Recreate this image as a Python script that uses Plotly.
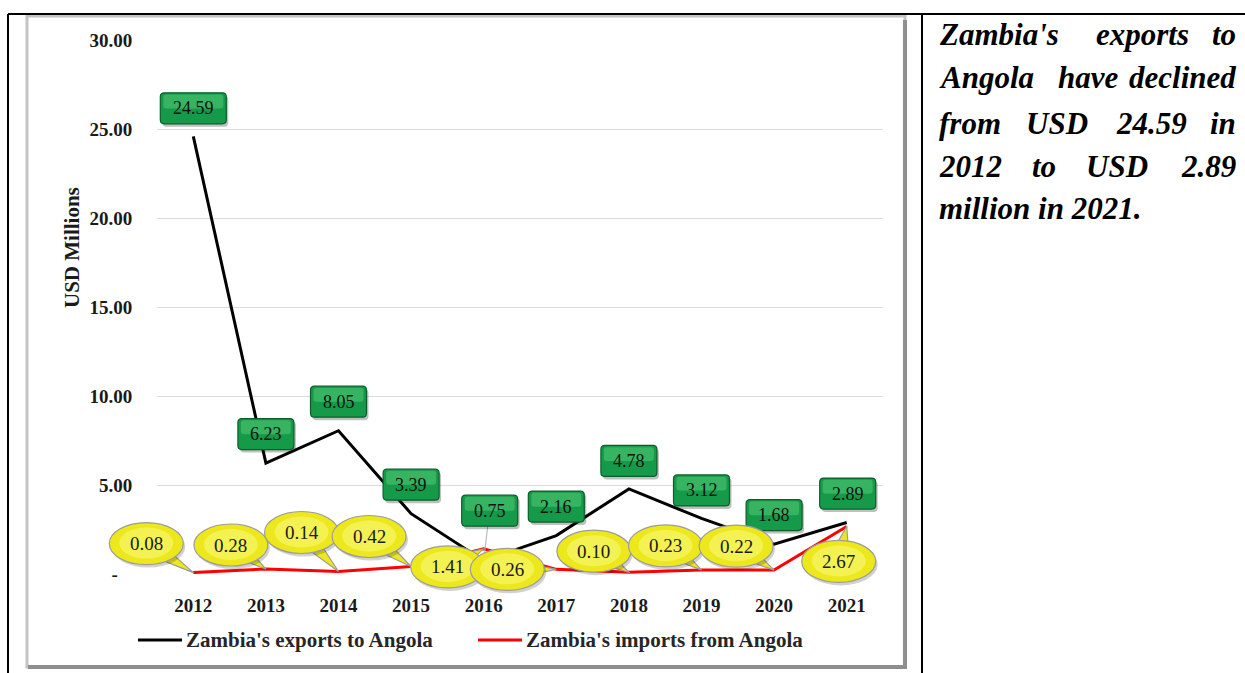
import math
import plotly.graph_objects as go

# ---------------- data ----------------
years = [2012, 2013, 2014, 2015, 2016, 2017, 2018, 2019, 2020, 2021]
exports = [24.59, 6.23, 8.05, 3.39, 0.75, 2.16, 4.78, 3.12, 1.68, 2.89]
imports = [0.08, 0.28, 0.14, 0.42, 1.41, 0.26, 0.10, 0.23, 0.22, 2.67]
export_name = "Zambia's exports to Angola"
import_name = "Zambia's imports from Angola"
y_tick_vals = [0, 5, 10, 15, 20, 25, 30]
y_tick_text = ["-\u00a0\u00a0\u00a0", "5.00", "10.00", "15.00", "20.00", "25.00", "30.00"]
y_title = "USD Millions"
note_words = [
    ["Zambia's", "exports", "to"],
    ["Angola", "have", "declined"],
    ["from", "USD", "24.59", "in"],
    ["2012", "to", "USD", "2.89"],
    ["million in 2021."],
]

# ---------------- layout / style ----------------
W, H = 1245, 673
PL, PR, PT, PB = 157, 883, 40, 574  # plot area in pixels
X_RANGE = [2011.5, 2021.5]
Y_RANGE = [0, 30]


def px(x):
    return x / W


def py(y):
    return 1 - y / H


# overlay axis spanning the whole figure, sharing the same scale as the main axes
x_per_px = (X_RANGE[1] - X_RANGE[0]) / (PR - PL)
y_per_px = (Y_RANGE[1] - Y_RANGE[0]) / (PB - PT)
X2_RANGE = [X_RANGE[0] - PL * x_per_px, X_RANGE[1] + (W - PR) * x_per_px]
Y2_RANGE = [Y_RANGE[0] - (H - PB) * y_per_px, Y_RANGE[1] + PT * y_per_px]

# label offsets in pixels (right, up) relative to the data point
export_label_offsets = [(0, 28), (0, 29), (0, 29), (0, 29), (6, 50),
                        (0, 29), (0, 28), (0, 28), (0, 29), (1, 29)]
import_label_offsets = [(-47, 29), (-35, 24), (-37, 39), (-42, 30), (-36, -18),
                        (-49, 0), (-35, 21), (-36, 24), (-38, 24), (-8, -35)]

SERIF = "Liberation Serif"
TXT = "#1a1a1a"

fig = go.Figure()
fig.add_trace(go.Scatter(x=years, y=exports, mode="lines", name=export_name,
                         line=dict(color="#000000", width=3), showlegend=False,
                         cliponaxis=False, hoverinfo="skip"))
fig.add_trace(go.Scatter(x=years, y=imports, mode="lines", name=import_name,
                         line=dict(color="#ff0000", width=3), showlegend=False,
                         cliponaxis=False, hoverinfo="skip"))
fig.add_trace(go.Scatter(x=[None], y=[None], xaxis="x2", yaxis="y2", showlegend=False,
                         hoverinfo="skip", mode="lines"))

shapes = []
annotations = []

# chart frame (grey 3D border)
shapes.append(dict(type="rect", xref="paper", yref="paper",
                   x0=px(27), x1=px(905), y0=py(16), y1=py(667),
                   line=dict(color="#c4c4c4", width=3), fillcolor="rgba(0,0,0,0)", layer="below"))
shapes.append(dict(type="line", xref="paper", yref="paper",
                   x0=px(905), x1=px(905), y0=py(20), y1=py(668),
                   line=dict(color="#8f8f8f", width=4), layer="below"))
shapes.append(dict(type="line", xref="paper", yref="paper",
                   x0=px(28), x1=px(907), y0=py(667), y1=py(667),
                   line=dict(color="#8f8f8f", width=4), layer="below"))
# table borders
for (x0, y0, x1, y1) in [(8, 14, 1245, 14), (8, 14, 8, 673), (922, 14, 922, 673)]:
    shapes.append(dict(type="line", xref="paper", yref="paper",
                       x0=px(x0), x1=px(x1), y0=py(y0), y1=py(y1),
                       line=dict(color="#000000", width=2)))


def rounded_rect(cx, cy, w, h, r):
    x0, x1 = cx - w / 2, cx + w / 2
    y0, y1 = cy - h / 2, cy + h / 2
    return (f"M {x0 + r},{y0} L {x1 - r},{y0} Q {x1},{y0} {x1},{y0 + r} "
            f"L {x1},{y1 - r} Q {x1},{y1} {x1 - r},{y1} L {x0 + r},{y1} "
            f"Q {x0},{y1} {x0},{y1 - r} L {x0},{y0 + r} Q {x0},{y0} {x0 + r},{y0} Z")


# green boxes for exports
for yr, v, (dx, dy) in zip(years, exports, export_label_offsets):
    label = f"{v:.2f}"
    w = 66 if len(label) > 4 else 56
    h = 31
    base = dict(type="path", xref="x2", yref="y2", xsizemode="pixel", ysizemode="pixel",
                xanchor=yr, yanchor=v)
    if dy - h / 2 > 20:  # leader line when the box sits far from its point
        shapes.append(dict(base, path=f"M {dx - 2},{dy - h / 2} L 0,0",
                           line=dict(color="#b0b0b0", width=1)))
    shapes.append(dict(base, path=rounded_rect(dx + 2, dy - 3, w, h, 4),
                       fillcolor="rgba(0,0,0,0.25)", line=dict(width=0)))
    shapes.append(dict(base, path=rounded_rect(dx, dy, w, h, 4),
                       fillcolor="#149a48", line=dict(color="#0b5e2a", width=1.2)))
    shapes.append(dict(base, path=rounded_rect(dx, dy + h * 0.22, w - 6, h * 0.45, 3),
                       fillcolor="rgba(120,230,150,0.35)", line=dict(width=0)))
    annotations.append(dict(x=yr, y=v, xref="x", yref="y", text=label, showarrow=False,
                            xshift=dx, yshift=dy, font=dict(family=SERIF, size=18, color="#111111")))

# yellow callouts for imports
RX, RY = 37, 21
for yr, v, (dx, dy) in zip(years, imports, import_label_offsets):
    label = f"{v:.2f}"
    base = dict(xref="x2", yref="y2", xsizemode="pixel", ysizemode="pixel",
                xanchor=yr, yanchor=v)
    dist = math.hypot(dx, dy)
    if dist > 1:
        ux, uy = -dx / dist, -dy / dist
        bx, by = dx + ux * 10, dy + uy * 10
        pxv, pyv = -uy * 8, ux * 8
        shapes.append(dict(base, type="path",
                           path=f"M {bx + pxv},{by + pyv} L 0,0 L {bx - pxv},{by - pyv} Z",
                           fillcolor="#ece81c", line=dict(color="#9c9c9c", width=1.2)))
    shapes.append(dict(base, type="circle", x0=dx - RX + 2, x1=dx + RX + 2,
                       y0=dy - RY - 3, y1=dy + RY - 3,
                       fillcolor="rgba(0,0,0,0.18)", line=dict(width=0)))
    shapes.append(dict(base, type="circle", x0=dx - RX, x1=dx + RX, y0=dy - RY, y1=dy + RY,
                       fillcolor="#ece81c", line=dict(color="#9c9c9c", width=1.2)))
    shapes.append(dict(base, type="circle", x0=dx - RX + 10, x1=dx + RX - 10,
                       y0=dy - RY + 6, y1=dy + RY - 5,
                       fillcolor="rgba(255,255,150,0.45)", line=dict(width=0)))
    annotations.append(dict(x=yr, y=v, xref="x", yref="y", text=label, showarrow=False,
                            xshift=dx, yshift=dy, font=dict(family=SERIF, size=19, color=TXT)))

# y-axis title
annotations.append(dict(xref="paper", yref="paper", x=px(58), y=py(248), text=f"<b>{y_title}</b>",
                        textangle=-90, showarrow=False,
                        font=dict(family=SERIF, size=21, color=TXT)))

# custom legend
legend_items = [(export_name, "#000000", 138, 182), (import_name, "#ff0000", 478, 522)]
for name, col, lx0, lx1 in legend_items:
    shapes.append(dict(type="line", xref="paper", yref="paper", x0=px(lx0), x1=px(lx1),
                       y0=py(640), y1=py(640), line=dict(color=col, width=3)))
    annotations.append(dict(xref="paper", yref="paper", x=px(lx1 + 2), y=py(640),
                            xanchor="left", yanchor="middle", text=f"<b>{name}</b>",
                            showarrow=False, font=dict(family=SERIF, size=21, color="#262626")))

# right-hand note (justified by anchoring words)
note_positions = [
    [("left", 937), ("center", 1142), ("right", 1238)],
    [("left", 937), ("center", 1088), ("right", 1238)],
    [("left", 937), ("center", 1057), ("center", 1151), ("right", 1238)],
    [("left", 937), ("center", 1044), ("center", 1117), ("right", 1238)],
    [("left", 937)],
]
note_line_y = [34, 77, 123, 166, 208]
for words, poss, ly in zip(note_words, note_positions, note_line_y):
    for wtxt, (anc, xx) in zip(words, poss):
        annotations.append(dict(xref="paper", yref="paper", x=px(xx), y=py(ly),
                                xanchor=anc, yanchor="middle", text=f"<b><i>{wtxt}</i></b>",
                                showarrow=False,
                                font=dict(family=SERIF, size=31, color="#000000")))

axis_font = dict(family=SERIF, size=19, color=TXT, weight="bold")
fig.update_layout(
    width=W, height=H,
    margin=dict(l=0, r=0, t=0, b=0, pad=0, autoexpand=False),
    paper_bgcolor="#ffffff", plot_bgcolor="rgba(0,0,0,0)",
    showlegend=False,
    shapes=shapes, annotations=annotations,
    xaxis=dict(domain=[PL / W, PR / W], range=X_RANGE, tickvals=years,
               ticktext=[str(y) for y in years],
               showgrid=False, zeroline=False, showline=False,
               ticks="outside", ticklen=14, tickcolor="rgba(0,0,0,0)",
               tickfont=axis_font, fixedrange=True, anchor="y", automargin=False),
    yaxis=dict(domain=[1 - PB / H, 1 - PT / H], range=Y_RANGE, tickvals=y_tick_vals,
               ticktext=y_tick_text,
               showgrid=True, gridcolor="#dcdcdc", gridwidth=1, zeroline=False, showline=False,
               ticks="outside", ticklen=20, tickcolor="rgba(0,0,0,0)",
               tickfont=axis_font, fixedrange=True, anchor="x", automargin=False),
    xaxis2=dict(domain=[0, 1], range=X2_RANGE, visible=False, fixedrange=True, anchor="y2",
                automargin=False),
    yaxis2=dict(domain=[0, 1], range=Y2_RANGE, visible=False, fixedrange=True, anchor="x2",
                automargin=False),
)

fig.write_html("out.html")
